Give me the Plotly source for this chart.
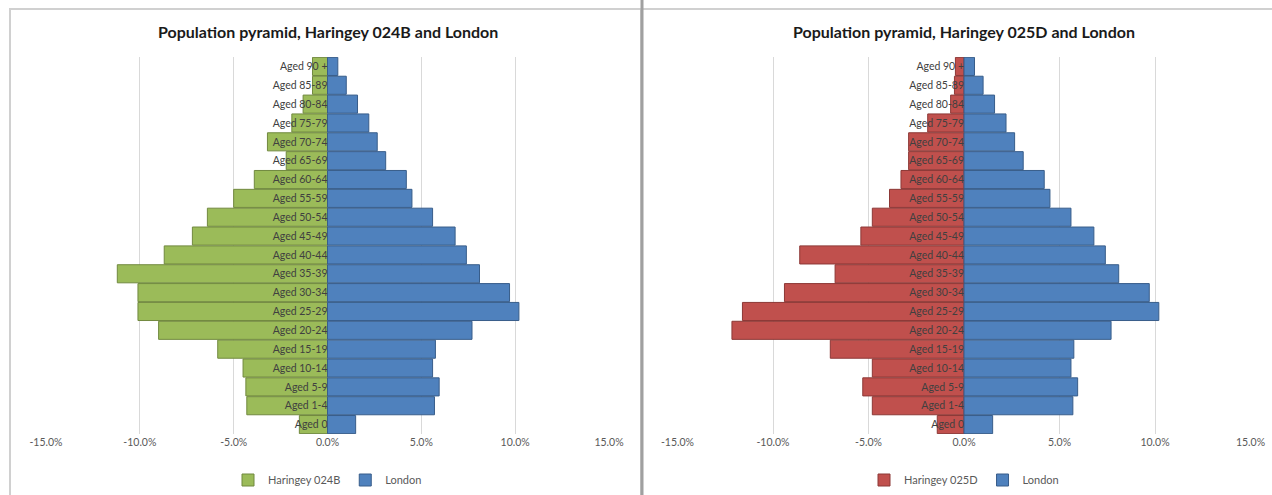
import plotly.graph_objects as go

W, H = 1272, 495

ages = ["Aged 0", "Aged 1-4", "Aged 5-9", "Aged 10-14", "Aged 15-19", "Aged 20-24",
        "Aged 25-29", "Aged 30-34", "Aged 35-39", "Aged 40-44", "Aged 45-49",
        "Aged 50-54", "Aged 55-59", "Aged 60-64", "Aged 65-69", "Aged 70-74",
        "Aged 75-79", "Aged 80-84", "Aged 85-89", "Aged 90 +"]

london = [1.5, 5.7, 5.95, 5.6, 5.75, 7.7, 10.2, 9.7, 8.1, 7.4, 6.8, 5.6, 4.5, 4.2,
          3.1, 2.65, 2.2, 1.6, 1.0, 0.55]
haringey_024b = [-1.5, -4.3, -4.35, -4.5, -5.85, -9.0, -10.1, -10.1, -11.2, -8.7,
                 -7.2, -6.4, -5.0, -3.9, -2.2, -3.2, -1.9, -1.3, -0.8, -0.8]
haringey_025d = [-1.4, -4.8, -5.3, -4.8, -7.0, -12.15, -11.6, -9.4, -6.75, -8.6,
                 -5.4, -4.8, -3.9, -3.3, -2.9, -2.9, -1.9, -0.7, -0.5, -0.45]

tick_vals = [-15, -10, -5, 0, 5, 10, 15]
tick_labels = ["-15.0%", "-10.0%", "-5.0%", "0.0%", "5.0%", "10.0%", "15.0%"]

titles = ["Population pyramid, Haringey 024B and London",
          "Population pyramid, Haringey 025D and London"]

FONT = "Lato"
GREEN, GREEN_L = "#9BBB59", "#71893F"
BLUE, BLUE_L = "#4F81BD", "#385D8A"
RED, RED_L = "#C0504D", "#8C3836"

def px_x(v):
    return v / W

def px_y(v):
    return 1 - v / H

dom1 = [px_x(46), px_x(609)]
dom2 = [px_x(677.5), px_x(1250.5)]
ydom = [px_y(434), px_y(57)]

fig = go.Figure()

fig.add_trace(go.Bar(y=ages, x=haringey_024b, orientation="h", name="Haringey 024B",
                     marker=dict(color=GREEN, line=dict(color=GREEN_L, width=1)),
                     xaxis="x", yaxis="y", legend="legend"))
fig.add_trace(go.Bar(y=ages, x=london, orientation="h", name="London",
                     marker=dict(color=BLUE, line=dict(color=BLUE_L, width=1)),
                     xaxis="x", yaxis="y", legend="legend"))
fig.add_trace(go.Bar(y=ages, x=haringey_025d, orientation="h", name="Haringey 025D",
                     marker=dict(color=RED, line=dict(color=RED_L, width=1)),
                     xaxis="x2", yaxis="y2", legend="legend2"))
fig.add_trace(go.Bar(y=ages, x=london, orientation="h", name="London",
                     marker=dict(color=BLUE, line=dict(color=BLUE_L, width=1)),
                     xaxis="x2", yaxis="y2", legend="legend2"))

xcommon = dict(range=[-15, 15], tickvals=tick_vals, ticktext=tick_labels,
               showgrid=True, gridcolor="#D9D9D9", gridwidth=1, zeroline=False,
               showline=False, ticks="", fixedrange=True, automargin=False,
               tickfont=dict(family=FONT, size=10.5, color="#595959"))
ycommon = dict(type="category", categoryorder="array", categoryarray=ages,
               range=[-0.5, len(ages) - 0.5], domain=ydom, showgrid=False,
               zeroline=False, showline=False, ticks="", anchor="free", side="left",
               automargin=False,
               tickfont=dict(family=FONT, size=10.5, color="#404040"), fixedrange=True)

fig.update_layout(
    width=W, height=H, autosize=False,
    margin=dict(l=0, r=0, t=0, b=0, autoexpand=False),
    paper_bgcolor="white", plot_bgcolor="white",
    barmode="overlay", bargap=0.04,
    showlegend=True,
    xaxis=dict(domain=dom1, anchor="y", **xcommon),
    yaxis=dict(position=(dom1[0] + dom1[1]) / 2, **ycommon),
    xaxis2=dict(domain=dom2, anchor="y2", **xcommon),
    yaxis2=dict(position=(dom2[0] + dom2[1]) / 2, **ycommon),
    legend=dict(orientation="h", x=(dom1[0] + dom1[1]) / 2, xanchor="center",
                y=px_y(480), yanchor="middle", font=dict(family=FONT, size=11, color="#595959"),
                itemwidth=30, bgcolor="rgba(0,0,0,0)", traceorder="normal"),
    legend2=dict(orientation="h", x=(dom2[0] + dom2[1]) / 2, xanchor="center",
                 y=px_y(480), yanchor="middle", font=dict(family=FONT, size=11, color="#595959"),
                 itemwidth=30, bgcolor="rgba(0,0,0,0)", traceorder="normal"),
)

for t, dom in zip(titles, [dom1, dom2]):
    fig.add_annotation(text="<b>" + t + "</b>", xref="paper", yref="paper",
                       x=(dom[0] + dom[1]) / 2, y=px_y(32), xanchor="center", yanchor="middle",
                       showarrow=False, font=dict(family=FONT, size=16, color="#1A1A1A"))

# chart borders and divider
fig.add_shape(type="rect", xref="paper", yref="paper",
              x0=px_x(10), x1=px_x(641), y0=px_y(505), y1=px_y(9),
              line=dict(color="#D0D0D0", width=2), layer="below")
fig.add_shape(type="line", xref="paper", yref="paper",
              x0=px_x(643), x1=px_x(1280), y0=px_y(9), y1=px_y(9),
              line=dict(color="#D0D0D0", width=2), layer="below")
fig.add_shape(type="line", xref="paper", yref="paper",
              x0=px_x(642), x1=px_x(642), y0=px_y(0), y1=px_y(495),
              line=dict(color="#A0A0A0", width=3), layer="below")

fig.write_html("out.html")
